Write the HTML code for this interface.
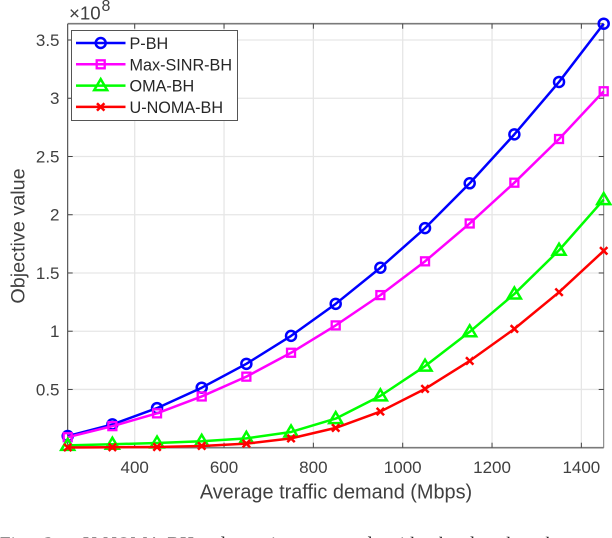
<!DOCTYPE html>
<html>
<head>
<meta charset="utf-8">
<style>
html,body{margin:0;padding:0;background:#fff;}
body{width:612px;height:538px;overflow:hidden;position:relative;}
svg{position:absolute;left:0;top:0;}
text{font-family:"Liberation Sans",sans-serif;fill:#404040;}
</style>
</head>
<body>
<svg id="chart" width="612" height="538" viewBox="0 0 612 538"></svg>
<script>
const categories = [250,350,450,550,650,750,850,950,1050,1150,1250,1350,1450];
const pBh = [0.10,0.20,0.34,0.515,0.72,0.96,1.235,1.545,1.885,2.27,2.69,3.14,3.64];
const maxSinrBh = [0.09,0.185,0.295,0.44,0.61,0.815,1.05,1.31,1.60,1.925,2.275,2.65,3.06];
const omaBh = [0.02,0.03,0.04,0.055,0.08,0.135,0.25,0.445,0.70,0.995,1.32,1.695,2.13];
const uNomaBh = [0.002,0.004,0.006,0.015,0.035,0.08,0.17,0.31,0.505,0.745,1.02,1.335,1.69];
const xTicks = [400,600,800,1000,1200,1400];
const yTicks = [0.5,1,1.5,2,2.5,3,3.5];
const yTickLabels = ['0.5','1','1.5','2','2.5','3','3.5'];
const seriesNames = ['P-BH','Max-SINR-BH','OMA-BH','U-NOMA-BH'];

const NS = 'http://www.w3.org/2000/svg';
const svg = document.getElementById('chart');
const L = 67.7, R = 603.7, T = 23.7, B = 447.7;
const xMin = 250, xMax = 1450, yMin = 0, yMax = 3.64;
function xScale(v){ return L + (v - xMin) / (xMax - xMin) * (R - L); }
function yScale(v){ return B - (v - yMin) / (yMax - yMin) * (B - T); }
function mk(tag, attrs, parent){
  const e = document.createElementNS(NS, tag);
  for (const k in attrs) e.setAttribute(k, attrs[k]);
  (parent || svg).appendChild(e);
  return e;
}
function marker(kind, x, y, color, parent){
  if (kind === 'circle') {
    return mk('circle', {cx:x, cy:y, r:5, fill:'none', stroke:color, 'stroke-width':2.5}, parent);
  }
  if (kind === 'square') {
    return mk('rect', {x:x-4, y:y-4, width:8, height:8, fill:'none', stroke:color, 'stroke-width':2.3}, parent);
  }
  if (kind === 'triangle') {
    return mk('polygon', {points:(x-6.5)+','+(y+4.5)+' '+(x+6.5)+','+(y+4.5)+' '+x+','+(y-6.5), fill:'none', stroke:color, 'stroke-width':2.5}, parent);
  }
  return mk('path', {d:'M'+(x-3.7)+' '+(y-3.7)+'L'+(x+3.7)+' '+(y+3.7)+'M'+(x-3.7)+' '+(y+3.7)+'L'+(x+3.7)+' '+(y-3.7), fill:'none', stroke:color, 'stroke-width':2.5}, parent);
}

/* grid */
const grid = mk('g', {});


xTicks.forEach(function(t){
  const g = mk('line', {x1:xScale(t), x2:xScale(t), y1:T, y2:B, stroke:'#e6e6e6', 'stroke-width':1.3}, grid);
  
  
});
yTicks.forEach(function(t){
  const g = mk('line', {x1:L, x2:R, y1:yScale(t), y2:yScale(t), stroke:'#e6e6e6', 'stroke-width':1.3}, grid);
  
  
});

/* axes box */
const axes = mk('g', {});


const axisTop = mk('line', {x1:L, x2:R, y1:T, y2:T, stroke:'#7a7a7a', 'stroke-width':1.6}, axes);


const axisBottom = mk('line', {x1:L, x2:R, y1:B, y2:B, stroke:'#7a7a7a', 'stroke-width':1.6}, axes);


const axisLeft = mk('line', {x1:L, x2:L, y1:T, y2:B, stroke:'#333', 'stroke-width':1}, axes);


const axisRight = mk('line', {x1:R, x2:R, y1:T, y2:B, stroke:'#777', 'stroke-width':1}, axes);



xTicks.forEach(function(t){
  const x = xScale(t);
  mk('line', {x1:x, x2:x, y1:B, y2:B-5, stroke:'#444', 'stroke-width':1}, axes);
  mk('line', {x1:x, x2:x, y1:T, y2:T+5, stroke:'#444', 'stroke-width':1}, axes);
  const lab = mk('text', {x:x, y:473, 'text-anchor':'middle', 'font-size':'17px'}, axes);
  
  
  lab.textContent = String(t);
});
yTicks.forEach(function(t, i){
  const y = yScale(t);
  mk('line', {x1:L, x2:L+5, y1:y, y2:y, stroke:'#444', 'stroke-width':1}, axes);
  mk('line', {x1:R, x2:R-5, y1:y, y2:y, stroke:'#444', 'stroke-width':1}, axes);
  const lab = mk('text', {x:59.5, y:y+6, 'text-anchor':'end', 'font-size':'17px'}, axes);
  
  
  lab.textContent = yTickLabels[i];
});

/* series */
function drawSeries(values, color, kind, width, name){
  const g = mk('g', {});
  
  
  const pts = values.map(function(v, i){ return xScale(categories[i]).toFixed(2) + ',' + yScale(v).toFixed(2); }).join(' ');
  mk('polyline', {points:pts, fill:'none', stroke:color, 'stroke-width':width, 'stroke-linejoin':'round'}, g);
  values.forEach(function(v, i){
    const m = marker(kind, xScale(categories[i]), yScale(v), color, g);
    
    
  });
}
drawSeries(pBh, '#0000ff', 'circle', 2.5, 'series-p-bh');
drawSeries(maxSinrBh, '#ff00ff', 'square', 2.5, 'series-max-sinr-bh');
drawSeries(omaBh, '#00ff00', 'triangle', 2.5, 'series-oma-bh');
drawSeries(uNomaBh, '#ff0000', 'cross', 2.5, 'series-u-noma-bh');

/* legend */
const legend = mk('g', {});


mk('rect', {x:71.5, y:30.5, width:166, height:90, fill:'#fff', stroke:'#555', 'stroke-width':1}, legend);
const legendColors = ['#0000ff','#ff00ff','#00ff00','#ff0000'];
const legendKinds = ['circle','square','triangle','cross'];
seriesNames.forEach(function(n, i){
  const y = 43 + i * 21.3;
  const entry = mk('g', {}, legend);
  
  
  mk('line', {x1:76, x2:125.5, y1:y, y2:y, stroke:legendColors[i], 'stroke-width':2.5}, entry);
  marker(legendKinds[i], 100.7, y, legendColors[i], entry);
  const t = mk('text', {x:129.5, y:y+6, 'font-size':'16.2px', style:'fill:#262626'}, entry);
  t.textContent = n;
});

/* titles */
const xTitle = mk('text', {x:336, y:498.5, 'text-anchor':'middle', 'font-size':'19.9px'});


xTitle.textContent = 'Average traffic demand (Mbps)';
const yTitle = mk('text', {x:0, y:0, 'text-anchor':'middle', 'font-size':'19.8px', transform:'translate(24.5 236) rotate(-90)'});


yTitle.textContent = 'Objective value';

/* exponent */
const expo = mk('g', {});


const ex1 = mk('text', {x:69, y:19.5, 'font-size':'18.7px'}, expo);
ex1.textContent = '\u00d710';
const ex2 = mk('text', {x:101.5, y:11, 'font-size':'16px'}, expo);
ex2.textContent = '8';

/* clipped caption at bottom edge */
const cap = mk('text', {x:0, y:550, 'font-size':'19px', style:'font-family:\'Liberation Serif\',serif;fill:#222;word-spacing:9px'});


cap.textContent = 'Fig. 3.';
const capRest = mk('tspan', {x:83}, cap);
capRest.textContent = 'U-NOMA-BH adopts is compared with the benchmark';
</script>
</body>
</html>
